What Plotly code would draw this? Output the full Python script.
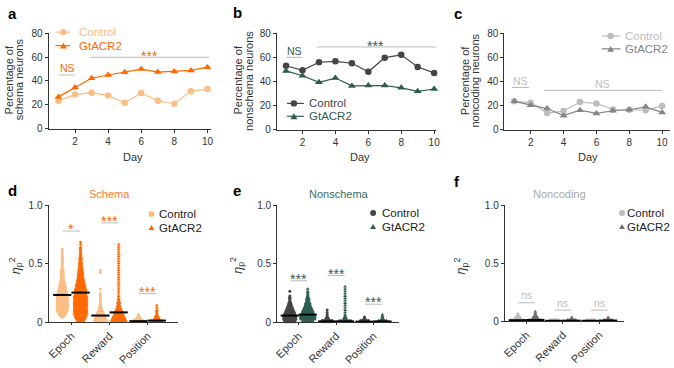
import plotly.graph_objects as go

W, H = 674, 368

# ---------------- data ----------------
days = list(range(1, 11))
schema_control = [23.4, 28.6, 30.2, 27.8, 21.8, 29.9, 23.4, 21.0, 31.5, 33.2]
schema_gtacr2 = [26.7, 34.5, 42.3, 45.0, 47.2, 49.9, 47.4, 48.0, 48.8, 51.5]
nonschema_control = [52.9, 49.1, 55.8, 56.6, 55.0, 48.0, 59.6, 62.0, 51.8, 47.0]
nonschema_gtacr2 = [48.6, 44.6, 39.2, 42.7, 36.2, 36.5, 36.5, 34.6, 31.7, 33.6]
noncoding_control = [23.4, 22.3, 13.7, 15.3, 22.8, 21.7, 16.6, 16.4, 16.1, 19.6]
noncoding_gtacr2 = [23.4, 20.1, 17.4, 11.5, 16.1, 13.4, 15.6, 16.4, 18.8, 14.2]

factors = ["Epoch", "Reward", "Position"]
bin_width = 0.02  # neuron counts per 0.02-wide eta_p^2 bin, starting at 0

schema_ctrl = {
    "Epoch": [0, 0, 4, 8, 10, 12, 12, 12, 12, 12, 12, 11, 10, 9, 8, 7, 6, 5, 4, 4, 3, 3, 3, 2, 2, 2, 2, 2, 1, 1, 1, 1],
    "Reward": [14, 12, 10, 8, 6, 4, 3, 2, 2, 1, 1, 1, 1, 0, 1, 0, 0, 0, 0, 0, 0, 1, 1],
    "Position": [12, 6, 3, 1],
}
schema_gt = {
    "Epoch": [8, 10, 12, 14, 14, 14, 14, 14, 14, 14, 14, 13, 12, 12, 11, 10, 9, 8, 7, 6, 6, 5, 5, 4, 4, 3, 3, 3, 2, 2, 2, 2, 1, 1, 1],
    "Reward": [16, 14, 12, 10, 8, 6, 4, 3, 3, 2, 1, 1, 1, 1, 1, 1, 1, 1, 1, 1, 1, 1, 1, 1, 1, 1, 1, 1, 1, 1, 1, 1, 1, 1],
    "Position": [12, 6, 4, 2, 2, 1, 1, 1],
}
nonschema_ctrl = {
    "Epoch": [12, 14, 14, 12, 10, 8, 6, 4, 3, 2, 2, 1, 0, 1],
    "Reward": [12, 4, 2, 1, 1, 1],
    "Position": [10, 3, 1],
}
nonschema_gt = {
    "Epoch": [12, 16, 16, 14, 12, 10, 8, 6, 5, 4, 3, 2, 2, 1, 1],
    "Reward": [14, 4, 2, 1, 1, 1, 1, 1, 1, 1, 1, 1, 1, 1, 1, 1],
    "Position": [10, 3, 2, 1],
}
noncoding_ctrl = {
    "Epoch": [14, 6, 3, 1],
    "Reward": [10],
    "Position": [10],
}
noncoding_gt = {
    "Epoch": [14, 6, 3, 2, 1],
    "Reward": [10, 2],
    "Position": [10, 2],
}
schema_means_ctrl = [0.234, 0.058, 0.010]
schema_means_gt = [0.254, 0.085, 0.015]
nonschema_means_ctrl = [0.058, 0.008, 0.006]
nonschema_means_gt = [0.066, 0.008, 0.008]
noncoding_means_ctrl = [0.010, 0.005, 0.005]
noncoding_means_gt = [0.012, 0.006, 0.007]

# ---------------- style ----------------
FONT = "Liberation Sans, Arial, sans-serif"
AX = "#333333"
SC_C, SC_G = "#FDBE85", "#FF6A00"
NS_C, NS_G = "#454545", "#2D5C52"
NC_C, NC_G = "#BDBDBD", "#858585"
SIG_LINE = "#BBBBBB"


def px(x):
    return x / W


def py(y):
    return 1 - y / H


fig = go.Figure()

# ---------------- axes ----------------
panels = {
    1: dict(x=(46, 210), y=(28, 127), xr=[0.4, 10.2]),
    2: dict(x=(276.7, 438), y=(28, 127.7), xr=[0.44, 10.14]),
    3: dict(x=(506.7, 674), y=(28, 127.7), xr=[0.4, 10.48]),
    4: dict(x=(46, 177), y=(206, 327), xr=[-0.6, 2.8]),
    5: dict(x=(277, 400), y=(206, 327), xr=[-0.58, 2.68]),
    6: dict(x=(507, 628), y=(206, 326), xr=[-0.6, 2.69]),
}
layout_axes = {}
for k, p in panels.items():
    xs = "xaxis" if k == 1 else f"xaxis{k}"
    ys = "yaxis" if k == 1 else f"yaxis{k}"
    common = dict(showgrid=False, zeroline=False, showline=True, linecolor=AX, linewidth=1,
                  ticks="outside", ticklen=3, tickcolor=AX, tickwidth=1,
                  ticklabeloverflow="allow",
                  tickfont=dict(family=FONT, size=10, color=AX))
    xa = dict(common, domain=[px(p["x"][0]), px(p["x"][1])], range=p["xr"],
              anchor="y" if k == 1 else f"y{k}")
    ya = dict(common, domain=[py(p["y"][1]), py(p["y"][0])],
              anchor="x" if k == 1 else f"x{k}")
    if k <= 3:
        xa.update(tickvals=[2, 4, 6, 8, 10])
        ya.update(range=[0, 80], tickvals=[0, 20, 40, 60, 80])
    else:
        xa.update(tickvals=[0, 1, 2], ticktext=factors, tickangle=-45, ticklen=2,
                  tickfont=dict(family=FONT, size=11, color=AX))
        ya.update(range=[0, 1.0], tickvals=[0, 0.5, 1.0], ticktext=["0", "0.5", "1.0"])
    layout_axes[xs] = xa
    layout_axes[ys] = ya

# ---------------- line panels ----------------
def add_lines(k, ctrl, gt, cc, gc):
    xa = "x" if k == 1 else f"x{k}"
    ya = "y" if k == 1 else f"y{k}"
    fig.add_trace(go.Scatter(x=days, y=ctrl, mode="lines+markers", xaxis=xa, yaxis=ya,
                             line=dict(color=cc, width=1.2),
                             marker=dict(symbol="circle", size=6.5, color=cc),
                             showlegend=False, cliponaxis=False))
    fig.add_trace(go.Scatter(x=days, y=gt, mode="lines+markers", xaxis=xa, yaxis=ya,
                             line=dict(color=gc, width=1.2),
                             marker=dict(symbol="triangle-up", size=7, color=gc),
                             showlegend=False, cliponaxis=False))


add_lines(1, schema_control, schema_gtacr2, SC_C, SC_G)
add_lines(2, nonschema_control, nonschema_gtacr2, NS_C, NS_G)
add_lines(3, noncoding_control, noncoding_gtacr2, NC_C, NC_G)

# ---------------- swarm panels ----------------
def swarm(counts, center, dx):
    xs, ys = [], []
    for i, n in enumerate(counts):
        if n <= 0:
            continue
        rows = [n - n // 2, n // 2] if n > 1 else [1]
        for r, m in enumerate(rows):
            if m == 0:
                continue
            y = (i + 0.25 + 0.5 * r) * bin_width
            for j in range(m):
                xs.append(center + (j - (m - 1) / 2) * dx)
                ys.append(y)
    return xs, ys


def add_swarm(k, ctrl, gt, mc, mg, cc, gc, pxunit):
    xa, ya = f"x{k}", f"y{k}"
    dx = 2.0 / pxunit
    off = 0.24
    for f_i, fac in enumerate(factors):
        x1, y1 = swarm(ctrl[fac], f_i - off, dx)
        fig.add_trace(go.Scatter(x=x1, y=y1, mode="markers", xaxis=xa, yaxis=ya,
                                 marker=dict(symbol="circle", size=3, color=cc),
                                 showlegend=False, cliponaxis=False))
        x2, y2 = swarm(gt[fac], f_i + off, dx)
        fig.add_trace(go.Scatter(x=x2, y=y2, mode="markers", xaxis=xa, yaxis=ya,
                                 marker=dict(symbol="triangle-up", size=3.5, color=gc),
                                 showlegend=False, cliponaxis=False))
    mx = []
    my = []
    for f_i in range(3):
        mx += [f_i - off, f_i + off]
        my += [mc[f_i], mg[f_i]]
    fig.add_trace(go.Scatter(x=mx, y=my, mode="markers", xaxis=xa, yaxis=ya,
                             marker=dict(symbol="line-ew", size=13,
                                         line=dict(width=2, color="black")),
                             showlegend=False, cliponaxis=False))


add_swarm(4, schema_ctrl, schema_gt, schema_means_ctrl, schema_means_gt, SC_C, SC_G, 38.5)
add_swarm(5, nonschema_ctrl, nonschema_gt, nonschema_means_ctrl, nonschema_means_gt, NS_C, NS_G, 37.7)
add_swarm(6, noncoding_ctrl, noncoding_gt, noncoding_means_ctrl, noncoding_means_gt, NC_C, "#6E6E6E", 36.8)

# ---------------- annotations / shapes ----------------
ann = []
shapes = []


def text(x, y, t, size=11, color=AX, xanchor="center", yanchor="middle", angle=0):
    ann.append(dict(x=px(x), y=py(y), xref="paper", yref="paper", text=t, showarrow=False,
                    xanchor=xanchor, yanchor=yanchor, textangle=angle, borderpad=0,
                    font=dict(family=FONT, size=size, color=color)))


def dtext(k, x, y, t, color, size=11):
    ann.append(dict(x=x, y=y, xref="x" if k == 1 else f"x{k}", yref="y" if k == 1 else f"y{k}",
                    text=t, showarrow=False, xanchor="center", yanchor="middle", borderpad=0,
                    font=dict(family=FONT, size=size, color=color)))


def dline(k, x0, x1, y):
    shapes.append(dict(type="line", xref="x" if k == 1 else f"x{k}", yref="y" if k == 1 else f"y{k}",
                       x0=x0, x1=x1, y0=y, y1=y, line=dict(color=SIG_LINE, width=1)))


def circle(cx, cy, d, color):
    shapes.append(dict(type="circle", xref="paper", yref="paper",
                       x0=px(cx - d / 2), x1=px(cx + d / 2), y0=py(cy + d / 2), y1=py(cy - d / 2),
                       fillcolor=color, line=dict(width=0)))


def triangle(cx, cy, s, color):
    h = s * 0.87
    path = (f"M{px(cx - s / 2)},{py(cy + h / 2)} L{px(cx + s / 2)},{py(cy + h / 2)} "
            f"L{px(cx)},{py(cy - h / 2)} Z")
    shapes.append(dict(type="path", xref="paper", yref="paper", path=path,
                       fillcolor=color, line=dict(width=0)))


def seg(x0, x1, y, color):
    shapes.append(dict(type="line", xref="paper", yref="paper", x0=px(x0), x1=px(x1),
                       y0=py(y), y1=py(y), line=dict(color=color, width=1.2)))


# panel letters
for lx, ly, t in [(4, 8, "a"), (231, 7, "b"), (455, 8, "c"), (4, 191, "d"), (231, 191, "e"), (455, 181, "f")]:
    ann.append(dict(x=px(lx), y=py(ly), xref="paper", yref="paper", text=f"<b>{t}</b>",
                    showarrow=False, xanchor="left", yanchor="middle", borderpad=0,
                    font=dict(family=FONT, size=15, color="black")))

# y titles top
text(6, 76, "Percentage of", angle=-90)
text(16, 76, "schema neurons", angle=-90)
text(237.5, 77, "Percentage of", angle=-90)
text(249, 77, "nonschema neurons", angle=-90)
text(467.5, 77, "Percentage of", angle=-90)
text(477, 77, "noncoding neurons", angle=-90)
# x titles
text(131, 156, "Day")
text(361, 156, "Day")
text(591, 156, "Day")
# eta titles
eta = "<i>η</i><sub>p</sub><sup>2</sup>"
text(13, 268, eta, size=12.5, angle=-90)
text(237, 268, eta, size=12.5, angle=-90)
text(463, 269, eta, size=12.5, angle=-90)
# panel titles
text(108, 194, "Schema", color="#FF7A30")
text(340, 194, "Nonschema", color="#3D6B62")
text(562, 194, "Noncoding", color="#A8A8A8")

# significance top row
dline(1, 1, 2, 45); dtext(1, 1.55, 50.5, "NS", SC_G, size=10.5)
dline(1, 2.9, 10.1, 59.8); dtext(1, 6.5, 60.8, "***", SC_G, size=14)
dline(2, 1, 2, 59.9); dtext(2, 1.5, 65, "NS", NS_G, size=10.5)
dline(2, 2.85, 10.1, 68.5); dtext(2, 6.46, 69.7, "***", NS_G, size=14)
dline(3, 0.86, 1.9, 34.9); dtext(3, 1.4, 40, "NS", NC_C, size=10.5)
dline(3, 2.8, 10.0, 32.5); dtext(3, 6.4, 38, "NS", NC_C, size=10.5)

# significance bottom row: (line level, label level)
for k, lines, texts, labels, col in [
    (4, [0.78, 0.85, 0.245], [0.80, 0.864, 0.255], ["*", "***", "***"], SC_G),
    (5, [0.355, 0.40, 0.155], [0.374, 0.415, 0.172], ["***", "***", "***"], NS_G),
    (6, [0.16, 0.097, 0.097], [0.225, 0.16, 0.16], ["ns", "ns", "ns"], NC_C),
]:
    for f_i in range(3):
        dline(k, f_i - 0.23, f_i + 0.23, lines[f_i])
        sz = 10.5 if labels[f_i] == "ns" else 14
        dtext(k, f_i, texts[f_i], labels[f_i], col, size=sz)

# legends top row
for (x0, x1, cx, tx, y1, y2, cc, gc) in [
    (53, 68, 61, 76, 27, 41, SC_C, SC_G),
    (287, 304, 294, 308, 100.7, 114, NS_C, NS_G),
    (605, 624, 614, 628, 31, 44.3, NC_C, NC_G),
]:
    seg(x0, x1, y1, cc); circle(cx, y1, 6.5, cc)
    seg(x0, x1, y2, gc); triangle(cx, y2, 7, gc)
    text(tx, y1, "Control", size=11.5, color=cc, xanchor="left")
    text(tx, y2, "GtACR2", size=11.5, color=gc, xanchor="left")

# legends bottom row
for (cx, tx, y1, y2, cc, gc) in [
    (150, 157, 215, 229, SC_C, SC_G),
    (374, 381.5, 214, 228, NS_C, NS_G),
    (625.5, 630, 214, 228, NC_C, "#6E6E6E"),
]:
    circle(cx, y1, 6, cc)
    triangle(cx, y2, 6, gc)
    text(tx, y1, "Control", size=11.5, color="#222222", xanchor="left")
    text(tx, y2, "GtACR2", size=11.5, color="#222222", xanchor="left")

fig.update_layout(width=W, height=H, margin=dict(l=0, r=0, t=0, b=0),
                  paper_bgcolor="white", plot_bgcolor="white", showlegend=False,
                  annotations=ann, shapes=shapes, **layout_axes)

fig.write_html("out.html", config={"displayModeBar": False},
               post_script="document.body.style.margin='0px';")
